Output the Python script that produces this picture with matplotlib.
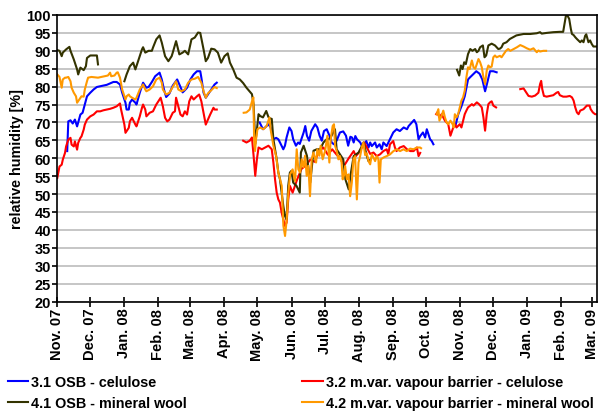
import numpy as np
import pandas as pd
import matplotlib
matplotlib.use('Agg')
import matplotlib.pyplot as plt
import matplotlib.dates as mdates
from matplotlib.ticker import MultipleLocator

plt.rcParams['font.family'] = ['Liberation Sans', 'DejaVu Sans']
plt.rcParams['font.weight'] = 'bold'

nan = np.nan
start = pd.Timestamp('2007-11-01')

# day offsets from 1 Nov 2007, nan values split the series into segments
osb_cel_days = [9, 10, 12, 14, 16, 18, 19, 21, 23, 25, 27, 30, 33, 36, 39, 42, 45, 48, 51, 54,
                57, 59, 62, 63, 65, 66, 68, 71, 72, 75, 78, 81, 83, 86, 89, 93, 95, 97, 99, 102,
                105, 109, 112, 114, 116, 118, 121, 124, 127, 130, 131, 133, 135, 137, 140, 143, 145,
                160,
                184, 187, 189, 192, 194, 196.5, 199, 201, 202.5, 205.5, 207, 208.5, 211, 213, 214.5,
                217, 219, 220.5, 224, 225.5, 227, 229, 231, 234.5, 236.5, 238.5, 240.5, 242.5, 245,
                247.5, 249.5, 251.5, 254, 257, 260, 262.5, 264.5, 266.5, 268, 269.5, 271, 272.5,
                275.5, 277, 279, 281, 283, 284.5, 286, 287.5, 289, 290.5, 293, 295, 296.5, 299.5,
                302.5, 305.5, 308.5, 311.5, 315, 318, 319.5, 322.5, 324.5, 326.5, 328.5, 330, 332.5,
                334.5, 336, 337.5, 339, 340.5, 342,
                350,
                362, 364.5, 367.5, 370.5, 373.5, 375, 378, 381, 384, 386.5, 389, 390.5, 393.5, 396.5, 399.5]
osb_cel_rh = [62, 70.3, 70.6, 69.7, 70.8, 68.9, 70, 72.2, 72.7, 75, 77.3, 78.3, 79.2, 79.9, 80.1, 80.3,
              80.5, 80.9, 81.3, 81.3, 80.6, 78.3, 75.5, 73.6, 73.6, 75.5, 76.4, 75.5, 75, 78.3, 81.1,
              79.7, 79.9, 81.3, 82.9, 83.9, 82, 79.2, 77.1, 78.1, 80.3, 82, 79.9, 78.4, 79, 79.7, 82,
              83.4, 84.3, 84.3, 82.5, 78.3, 76.9, 77.8, 79.2, 80.6, 81.1,
              nan,
              70, 68.1, 68.6, 69.5, 68.6, 65.3, 65.7, 65.3, 64.4, 62.5, 63.5, 65.8, 68.6, 67.6, 65.3,
              63.5, 64.4, 64, 67.2, 69, 66.3, 64.9, 67.6, 69.5, 68.6, 66.3, 64.9, 67.6, 68.1, 66.3,
              64.4, 63.9, 64.9, 67.2, 67.5, 66.3, 63.5, 66, 65.8, 64.4, 66.2, 65.3, 64.4, 63.4, 63.8,
              64.8, 63, 64.4, 63.4, 63.9, 64.4, 63, 63.9, 62.5, 64.4, 63.4, 65.3, 67.2, 68.1, 67.6,
              68.6, 68.1, 69, 70, 70.7, 69.5, 65.3, 66.2, 67.2, 65.8, 68.1, 66.7, 65.3, 64.8, 63.9,
              nan,
              69, 72.2, 74.5, 77.3, 82, 82.5, 83.4, 84.3, 83.6, 82, 78.7, 80.5, 84.3, 84.3, 84]

vb_cel_days = [0, 2, 4, 5, 7, 8, 10, 12, 13, 15, 16, 18, 19, 21, 22, 24, 25, 27, 30, 33,
               36, 39, 42, 45, 48, 51, 54, 57, 58, 61, 62, 65, 66, 68, 71, 72, 75, 77, 78, 80,
               81, 84, 87, 90, 93, 94, 96, 98, 100, 102, 105, 107, 108, 110, 112, 114, 116, 118,
               120, 122, 124, 127, 129, 131, 133, 135, 137, 139, 142, 143, 145,
               155,
               169, 172, 175, 177, 178.5, 180, 181.5, 183, 186, 189, 192, 195, 196.5, 198, 199.5,
               201, 202.5, 204, 205.5, 207, 208.5, 210, 211.5, 214, 218, 222, 226, 230, 234, 238,
               242, 246, 250, 254, 257, 261, 265, 269.5, 271.5, 274, 277, 279, 281.5, 284.5, 287.5,
               290.5, 293.5, 296.5, 299.5, 301, 302.5, 305.5, 307, 308.5, 311.5, 315, 318, 321,
               324, 327, 328.5, 330,
               337,
               344.5, 345.5, 347.5, 349.5, 352.5, 355.5, 357.5, 359.5, 361.5, 363, 366, 367.5, 369,
               370.5, 372, 373.5, 377, 378.5, 381.5, 383.5, 386, 387.5, 389, 390.5, 392, 393.5, 395,
               396.5, 399,
               410,
               421, 424, 425.5, 428.5, 431.5, 434.5, 437.5, 439, 440, 441, 442.5, 445, 448, 451, 454,
               455.5, 457, 460, 463, 466, 468, 469.5, 471, 472.5, 474, 475.5, 478.5, 481.5, 484, 485,
               487, 489, 490.5]
vb_cel_rh = [54.5, 57.7, 58.2, 59.6, 61.5, 63.3, 65.2, 65.7, 63.8, 63.3, 64.7, 62.4, 64.3, 65.7,
             66.1, 68, 69.4, 70.8, 71.7, 72.2, 73.1, 73.1, 73.4, 73.6, 73.8, 74.1, 74.5, 75.3, 73.6,
             69.4, 67.1, 68.5, 70.3, 71.3, 69.4, 68.9, 71.7, 74.1, 75, 73.6, 71.7, 72.7, 73.1, 75,
             76.4, 76.9, 74.5, 71.3, 70.3, 70.8, 72.7, 73.1, 76.9, 74.5, 72.2, 71.7, 73.1, 72.2,
             75.9, 77.3, 76.4, 77.3, 77.8, 75.9, 72.7, 69.4, 70.8, 72.2, 74.1, 73.6, 73.6,
             nan,
             64.9, 64.4, 64.9, 65.8, 60.7, 55.1, 59.7, 63, 62.5, 63, 63.5, 62.5, 58.8, 54.1, 50.4,
             48.5, 47.6, 44.8, 42.9, 41.1, 42, 48.5, 52.3, 50.4, 54, 57, 58, 59.6, 59, 62, 63, 61,
             62.5, 61, 60, 58, 60, 62, 60.6, 61.5, 63, 64.4, 63, 61.2, 61.6, 60.6, 61.1, 62, 62.5,
             61.1, 63.9, 64.8, 63, 62, 63, 63.4, 62.5, 62, 62, 63, 60.6, 61.5,
             nan,
             72.3, 72.8, 71.4, 72.3, 70.5, 69.5, 66.3, 68.1, 69.5, 68.6, 69.5, 68.6, 70.5, 72.3,
             73.3, 74.2, 75.1, 74.7, 75.6, 75.1, 74.2, 71.4, 67.7, 72.3, 75.1, 75.6, 75.9, 74.7, 74.2,
             nan,
             79.3, 79.5, 78.8, 77.4, 77.2, 77.5, 78.3, 80.7, 81.6, 79.3, 77.4, 77.2, 77.4, 77.6,
             78.3, 78.5, 77.6, 77.2, 77.2, 77.4, 77, 76.1, 74.2, 72.8, 72.3, 73.3, 73.7, 74.7, 74.7,
             73.7, 72.8, 72.3, 72.3]

osb_mw_days = [0, 2, 4, 5, 8, 11, 12, 15, 18, 19, 21, 24, 26, 27, 30, 36, 37,
               45,
               61, 63, 66, 69, 71, 74, 77, 78, 80, 83, 86, 87, 90, 93, 95, 98, 101, 104, 105, 108,
               111, 114, 116, 119, 122, 125, 128, 130, 133, 135, 137, 140, 143, 146, 149, 152, 155,
               157, 160, 163, 166, 169, 172, 175, 177, 178.5, 180, 181.5, 183, 184.5, 187, 190, 192,
               193.5, 195, 196.5, 198, 199.5, 201, 202.5, 204, 205.5, 207, 208.5, 210, 211.5, 213,
               214.5, 217.5, 220.5, 221.5, 224, 227, 228.5, 230, 233, 236, 239, 242, 245, 248, 251,
               252.5, 254, 257, 260, 262, 265, 266.5, 269.5, 274, 277, 278.5, 280, 281.5, 283, 285,
               300,
               363.5, 365.5, 367, 368.5, 370, 371.5, 373.5, 375.5, 377.5, 380, 381.5, 383, 384.5, 387,
               388.5, 390, 392, 395, 398, 401, 402.5, 404, 405.5, 408.5, 411.5, 414.5, 417.5, 421,
               424, 430, 436, 439, 440.5, 445, 451, 457, 460, 461.5, 462.5, 464, 465.5, 467, 468,
               469.5, 471, 472.5, 475.5, 477, 478.5, 480, 481, 483, 484.5, 486, 487.5, 490]
osb_mw_rh = [90.2, 90, 88.5, 89.5, 90.4, 91.1, 90, 87.6, 84.8, 83.4, 85.3, 84.6, 85.7, 88, 88.7, 88.7, 86.2,
             nan,
             81.5, 83.4, 85.7, 86.7, 84.8, 87.6, 90.4, 91, 89.5, 90, 90, 90.9, 93.2, 94.3, 92.3, 88.5,
             87.1, 88.5, 89.5, 92.7, 89, 89.5, 90, 89, 93.2, 93.7, 95.1, 95, 90.4, 87.1, 88, 90.6,
             90.4, 89.5, 86.7, 88.5, 89.3, 86.7, 84.8, 82.5, 82, 81, 79.7, 78.6, 77.9, 75, 64, 68,
             72.3, 71.8, 71.4, 73.2, 71.5, 71.1, 71, 65.3, 62.5, 59.7, 56, 54.1, 50.4, 46.7, 43.9,
             42.9, 52.3, 56, 56.5, 53.2, 52.3, 50.4, 61.6, 63.5, 60.7, 57, 53.2, 62.1, 62.5, 62.5,
             64.4, 65.3, 65.5, 67.2, 68.1, 62.5, 61.1, 59.7, 54.1, 51.3, 55, 60.6, 61.6, 63.4, 64.4,
             62.5, 60.6, 59.2, 59.7,
             nan,
             84.7, 83.1, 85.9, 84.9, 86.8, 86.3, 89.1, 90.5, 90, 90.5, 89.6, 90, 91, 91.5, 88.2, 88.7,
             91.5, 92, 91.5, 90.5, 90.6, 91, 92, 92.4, 93.3, 93.8, 94.3, 94.5, 94.7, 94.7, 94.9, 95.2,
             94.8, 95, 95.2, 95.3, 95.3, 98, 99.8, 99.8, 98.9, 96.1, 94.7, 94.4, 93.8, 93.3, 92.4,
             92.9, 92.4, 94.2, 94.6, 92.4, 92.9, 91.9, 91.2, 91.2]

vb_mw_days = [0, 2, 4, 5, 7, 8, 10, 12, 13, 15, 17, 18, 20, 22, 24, 25, 27, 28, 31, 34, 37, 40,
              43, 46, 48, 49, 52, 54, 55, 57, 59, 62, 63, 65, 66, 68, 71, 72, 75, 77, 78, 80, 81,
              84, 87, 90, 93, 95, 96, 99, 102, 105, 108, 110, 113, 116, 119, 122, 125, 128, 131,
              133, 135, 137, 140, 143, 145,
              155,
              169.5, 172, 175, 177.5, 178.3, 179, 179.8, 180.7, 182, 184.4, 187.4, 190.4, 192.9, 194,
              196.5, 198.9, 201, 202.6, 204.1, 205.6, 207.1, 208.6, 210.1, 211.7, 214, 216.2, 217.7,
              219.2, 220.7, 222.3, 223.8, 225.3, 226.8, 228.3, 229.8, 231.3, 232.9, 235.3, 236.5,
              238.3, 239.5, 241.3, 243.5, 245.6, 247.4, 248.6, 250.4, 251.6, 252.6, 254.1, 255.6,
              257, 258.5, 259.5, 261, 261.7, 263.3, 264.8, 266.3, 267.8, 269.3, 270.8, 272.4, 273.9,
              275.4, 276.9, 278.4, 279.9, 281.4, 283, 284.5, 286, 287.5, 289, 290.5, 292, 293, 294.2,
              296.6, 299.6, 302.6, 305.7, 308.7, 311.7, 314.8, 317.8, 320.8, 323.9, 326.9, 329.9, 330.8,
              337,
              345, 346.5, 347.5, 349.5, 351, 352.5, 354, 355.5, 357.5, 359.5, 360.5, 361.5, 363,
              364.5, 366, 367.5, 369, 370.5, 372, 373.5, 375, 377, 378.5, 380, 381.5, 383, 384.5,
              386, 387.5, 389, 390.5, 392, 393.5, 395, 396.5, 398, 399.5, 402.5, 404, 406, 408, 410,
              412, 415, 418, 421, 424, 427, 430, 433, 436, 437.5, 439, 442, 444.5]
vb_mw_rh = [83.4, 82.7, 79.7, 82, 82.5, 82.5, 82.7, 81.5, 79.7, 78.3, 77.3, 75.5, 76.4, 77.3, 77.2,
            79.2, 81.5, 82.5, 82.7, 82.6, 82.5, 82.7, 82.9, 83.1, 83.9, 82.9, 83.1, 83.9, 84, 82.5,
            79.2, 76.4, 77.3, 77.8, 77.3, 76.9, 76.4, 76.9, 79.2, 80.1, 80.6, 79.2, 78.7, 79.2, 80.1,
            82, 82.5, 81.1, 79.2, 77.8, 78.3, 79.9, 81.5, 79.2, 78.7, 79.2, 81.1, 82, 82.2, 82.7,
            81.1, 78.7, 76.9, 78.1, 79, 79.9, 79.6,
            nan,
            72.7, 72.8, 73.6, 76.4, 77, 65.3, 62, 65.3, 68.1, 68.6, 68.1, 69, 71.4, 68, 63.5, 60.7,
            56, 54.1, 52.3, 41.1, 38.3, 42.9, 50.4, 55.5, 56.9, 53.6, 62.5, 56.9, 56, 59.7, 57.5,
            60.7, 55.1, 57.9, 49.4, 59.7, 61.6, 58.8, 62.5, 60.7, 63.5, 59.7, 62, 66.3, 58.8, 65.3,
            69, 69.5, 63.5, 62, 59.7, 60.6, 58.8, 54.1, 55.5, 57.8, 54.1, 55.5, 49.4, 53.2, 59.7,
            60.6, 48.5, 58.8, 60.6, 63, 64.4, 60.9, 61.4, 59.2, 58.3, 61.1, 60.2, 59.2, 60.6, 59.7,
            53.2, 59.7, 60.2, 60.6, 61.1, 62, 62.5, 62, 62.5, 62, 62.7, 62.5, 63, 63, 62.8,
            nan,
            72.3, 73.7, 70.5, 71.9, 73.3, 71.4, 70, 69.5, 70.5, 69.5, 68.6, 72.3, 71.4, 72.3, 74.2,
            76.1, 77, 78.9, 82.6, 85.4, 84.9, 87.3, 85.4, 85, 86.3, 87.7, 86.8, 85.4, 82.6, 80.7,
            84.5, 85.9, 85.4, 85.6, 88.2, 88.7, 88.2, 88.6, 88.2, 89.1, 90, 90.5, 90, 90.5, 91, 91.6,
            91.2, 90.7, 90.3, 90.7, 89.6, 90.1, 89.8, 90, 90]

series = [
    ('3.1 OSB - celulose', osb_cel_days, osb_cel_rh, '#0000ff'),
    ('3.2 m.var. vapour barrier - celulose', vb_cel_days, vb_cel_rh, '#ff0000'),
    ('4.1 OSB - mineral wool', osb_mw_days, osb_mw_rh, '#333300'),
    ('4.2 m.var. vapour barrier - mineral wool', vb_mw_days, vb_mw_rh, '#ff9900'),
]

fig = plt.figure(figsize=(5.98, 4.14), dpi=100)
ax = fig.add_axes([57.3 / 598, 1 - 302.5 / 414, 539.4 / 598, 286.5 / 414])

lines = {}
for name, days, rh, color in series:
    dates = start + pd.to_timedelta(np.array(days, dtype=float), unit='D')
    ln, = ax.plot(dates, rh, color=color, lw=1.5, label=name)
    lines[name] = ln

ax.set_ylim(20, 100)
ax.yaxis.set_major_locator(MultipleLocator(5))
ax.set_xlim(start, start + pd.Timedelta(days=490.5))
ax.xaxis.set_major_locator(mdates.MonthLocator())
ax.xaxis.set_major_formatter(mdates.DateFormatter('%b. %y'))
ax.grid(axis='y', color='#c6c6c6', lw=1.4)
ax.set_axisbelow(True)

ax.tick_params(axis='x', direction='inout', length=7, width=1.2, pad=1, labelsize=10.5, rotation=90)
ax.tick_params(axis='y', direction='out', length=3.5, width=1.2, pad=1, labelsize=10.5)
for s in ax.spines.values():
    s.set_linewidth(1.2)
ax.set_ylabel('relative humidity [%]', fontsize=10.3, fontweight='bold', labelpad=2)

order = ['3.1 OSB - celulose', '4.1 OSB - mineral wool',
         '3.2 m.var. vapour barrier - celulose', '4.2 m.var. vapour barrier - mineral wool']
fig.legend([lines[k] for k in order], order, ncol=2, loc='upper left',
           bbox_to_anchor=(8 / 598, 1 - 376 / 414), frameon=False, fontsize=10.4,
           handlelength=1.4, handletextpad=0.2, columnspacing=8.0, labelspacing=0.48,
           borderpad=0, borderaxespad=0)

fig.savefig('out.png', dpi=100)
